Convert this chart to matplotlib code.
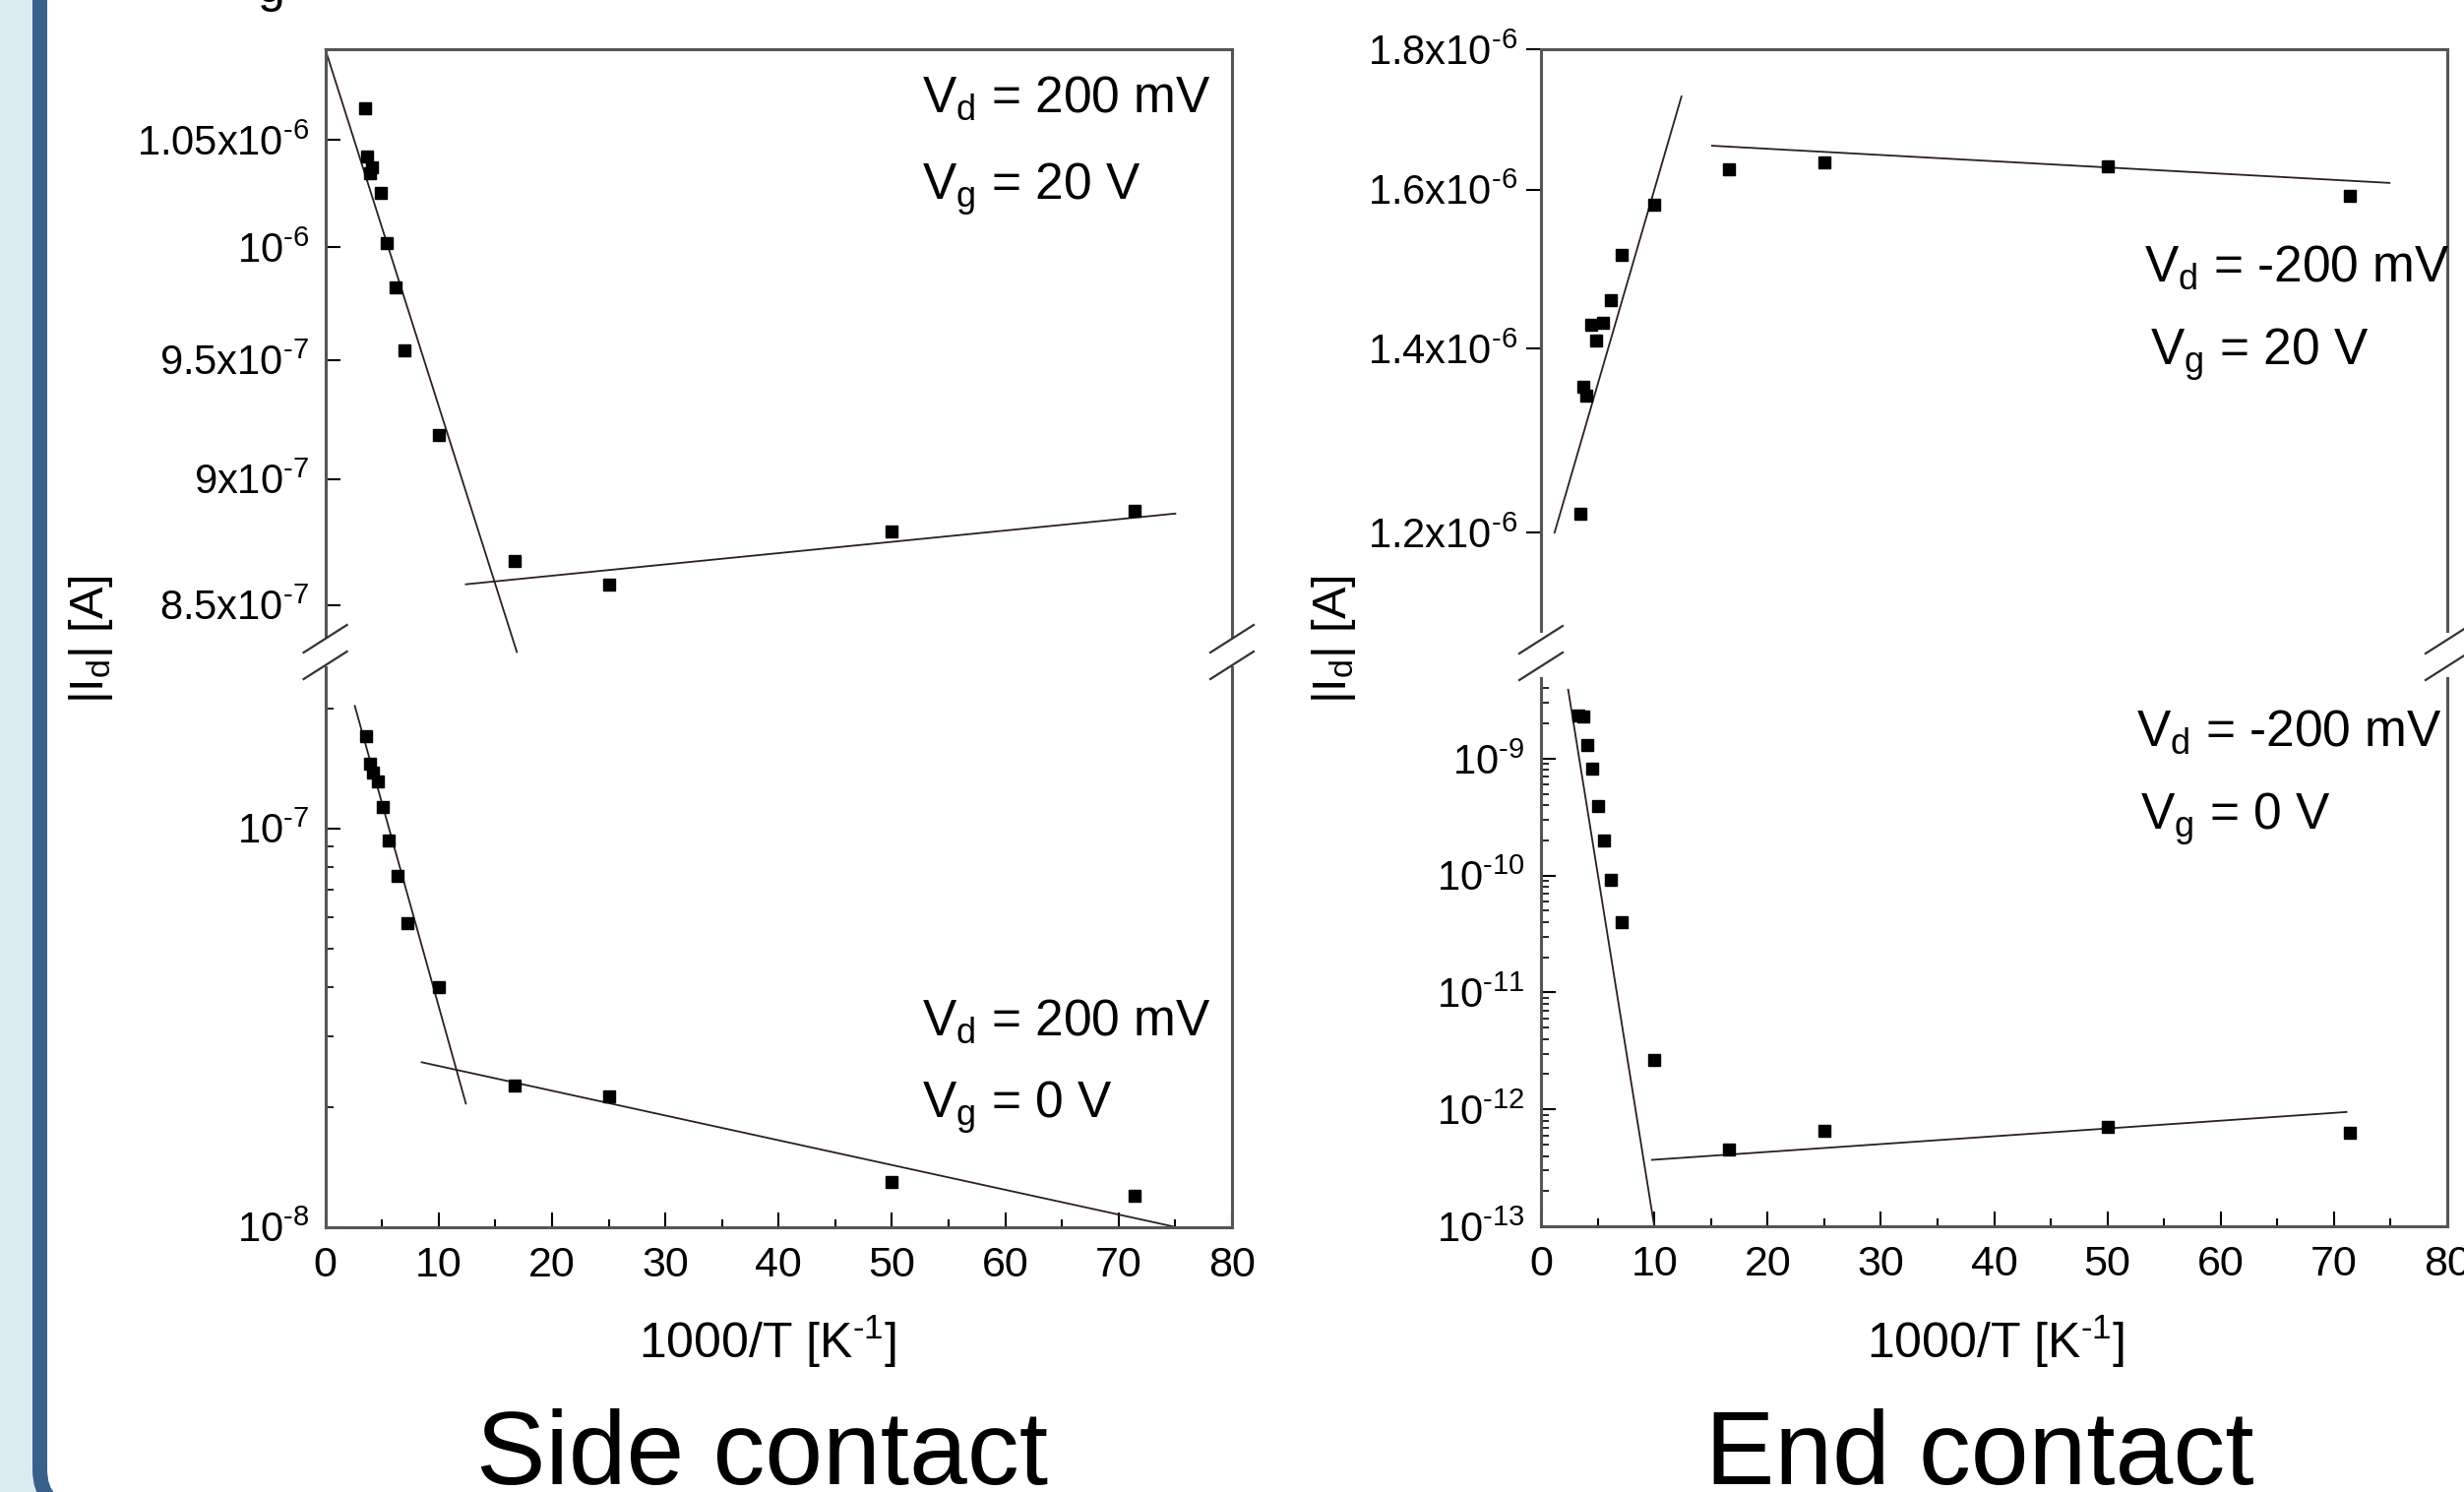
import numpy as np
import matplotlib
matplotlib.use("Agg")
import matplotlib.pyplot as plt
from matplotlib.ticker import FixedLocator, FixedFormatter, NullLocator, LogLocator, MultipleLocator, NullFormatter
from matplotlib.patches import Rectangle, FancyBboxPatch
from matplotlib.lines import Line2D

plt.rcParams['font.family'] = ['Liberation Sans', 'DejaVu Sans']
plt.rcParams['mathtext.fontset'] = 'custom'
plt.rcParams['mathtext.rm'] = 'Liberation Sans'
plt.rcParams['mathtext.it'] = 'Liberation Sans:italic'
plt.rcParams['mathtext.bf'] = 'Liberation Sans:bold'

# ---- data (x = 1000/T in 1/K, y = |Id| in A) ----
side_hi_x = [3.5, 3.7, 4.1, 3.9, 4.9, 5.4, 6.2, 7.0, 10.0, 16.7, 25.0, 50.0, 71.4]
side_hi_y = [1.065e-6, 1.042e-6, 1.037e-6, 1.034e-6, 1.025e-6, 1.002e-6, 0.982e-6,
             0.954e-6, 0.918e-6, 0.867e-6, 0.858e-6, 0.879e-6, 0.887e-6]

side_lo_x = [3.6, 3.9, 4.2, 4.6, 5.1, 5.6, 6.4, 7.2, 10.0, 16.7, 25.0, 50.0, 71.4]
side_lo_y = [1.70e-7, 1.45e-7, 1.38e-7, 1.31e-7, 1.13e-7, 9.3e-8, 7.6e-8, 5.8e-8,
             4.0e-8, 2.26e-8, 2.13e-8, 1.30e-8, 1.20e-8]

end_hi_x = [3.5, 3.7, 4.0, 4.4, 4.9, 5.5, 6.2, 7.1, 10.0, 16.6, 25.0, 50.0, 71.4]
end_hi_y = [1.219e-6, 1.356e-6, 1.346e-6, 1.429e-6, 1.410e-6, 1.431e-6, 1.458e-6,
            1.515e-6, 1.580e-6, 1.627e-6, 1.637e-6, 1.632e-6, 1.592e-6]

end_lo_x = [3.3, 3.7, 4.1, 4.5, 5.0, 5.6, 6.2, 7.1, 10.0, 16.6, 25.0, 50.0, 71.4]
end_lo_y = [2.35e-9, 2.30e-9, 1.30e-9, 8.3e-10, 3.96e-10, 1.98e-10, 9.2e-11, 4.0e-11,
            2.63e-12, 4.5e-13, 6.6e-13, 7.1e-13, 6.3e-13]

# fitted lines (end points)
side_hi_fit_a = ([0.0, 16.9], [1.094e-6, 0.832e-6])
side_hi_fit_b = ([12.4, 75.0], [0.858e-6, 0.886e-6])
side_lo_fit_a = ([2.6, 12.4], [2.03e-7, 2.04e-8])
side_lo_fit_b = ([8.5, 75.0], [2.59e-8, 1.0e-8])
end_hi_fit_a = ([1.2, 12.4], [1.20e-6, 1.73e-6])
end_hi_fit_b = ([15.1, 74.9], [1.660e-6, 1.609e-6])
end_lo_fit_a = ([2.4, 10.0], [3.9e-9, 1.0e-13])
end_lo_fit_b = ([9.8, 71.1], [3.7e-13, 9.5e-13])

# tick values / labels ('\u2010' = short hyphen, like the original)
HY = '\u2010'
side_hi_ticks = [8.5e-7, 9e-7, 9.5e-7, 1e-6, 1.05e-6]
side_hi_labels = ['8.5x10$^{\\mathrm{%s7}}$' % HY, '9x10$^{\\mathrm{%s7}}$' % HY,
                  '9.5x10$^{\\mathrm{%s7}}$' % HY, '10$^{\\mathrm{%s6}}$' % HY,
                  '1.05x10$^{\\mathrm{%s6}}$' % HY]
side_lo_ticks = [1e-8, 1e-7]
side_lo_labels = ['10$^{\\mathrm{%s8}}$' % HY, '10$^{\\mathrm{%s7}}$' % HY]
end_hi_ticks = [1.2e-6, 1.4e-6, 1.6e-6, 1.8e-6]
end_hi_labels = ['%sx10$^{\\mathrm{%s6}}$' % (v, HY) for v in ['1.2', '1.4', '1.6', '1.8']]
end_lo_ticks = [1e-13, 1e-12, 1e-11, 1e-10, 1e-9]
end_lo_labels = ['10$^{\\mathrm{%s%d}}$' % (HY, e) for e in [13, 12, 11, 10, 9]]
x_ticks = [0, 10, 20, 30, 40, 50, 60, 70, 80]

W, H = 2504, 1516
fig = plt.figure(figsize=(W / 100, H / 100), dpi=100)

SPINE = '#555555'
LINE = '#2d1f1c'


def px(x, y):
    return x / W, 1 - y / H


def rect(x0, x1, ytop, ybot):
    return [x0 / W, 1 - ybot / H, (x1 - x0) / W, (ybot - ytop) / H]


# background frame
bg = fig.add_axes([0, 0, 1, 1], zorder=-5)
bg.set_xlim(0, W)
bg.set_ylim(H, 0)
bg.axis('off')
bg.add_patch(Rectangle((0, 0), 80, H, color='#dbedf3', lw=0))
bg.add_patch(FancyBboxPatch((40.5, -200), 3000, 1733, boxstyle='round,pad=0,rounding_size=40',
                            fc='white', ec='#3a5f8c', lw=15 * 0.72))
bg.text(262, 1.5, 'g', fontsize=36, va='baseline', ha='left')


def style(ax, upper, tdir):
    ax.set_facecolor('none')
    for s in ax.spines.values():
        s.set_color(SPINE)
        s.set_linewidth(2.2)
    ax.set_xlim(0, 80)
    if upper:
        ax.spines['bottom'].set_visible(False)
        ax.tick_params(axis='x', which='both', bottom=False, labelbottom=False)
    else:
        ax.spines['top'].set_visible(False)
        ax.xaxis.set_major_locator(FixedLocator(x_ticks))
        ax.xaxis.set_minor_locator(MultipleLocator(5))
        ax.tick_params(axis='x', which='major', direction='in', length=11, width=1.5,
                       labelsize=31, pad=14, top=False)
        ax.tick_params(axis='x', which='minor', direction='in', length=6, width=1.5, top=False)
    ax.tick_params(axis='y', which='major', direction=tdir, length=11, width=1.5,
                   labelsize=30, pad=12 if tdir == 'in' else 6, right=False)
    ax.tick_params(axis='y', which='minor', direction=tdir, length=6, width=1.2, right=False)


def plot_set(ax, x, y, fits):
    for fx, fy in fits:
        ax.plot(fx, fy, color=LINE, lw=1.3, clip_on=False, zorder=2)
    ax.plot(x, y, 's', color='black', ms=9, zorder=3, clip_on=False)


def set_fixed_log(ax, ticks, labels, lims):
    ax.set_yscale('log')
    ax.set_ylim(*lims)
    ax.yaxis.set_major_locator(FixedLocator(ticks))
    ax.yaxis.set_major_formatter(FixedFormatter(labels))
    ax.yaxis.set_minor_locator(NullLocator())


# ---- Side contact ----
ax1 = fig.add_axes(rect(330.6, 1252, 50, 647))
plot_set(ax1, side_hi_x, side_hi_y, [side_hi_fit_a, side_hi_fit_b])
set_fixed_log(ax1, side_hi_ticks, side_hi_labels, (0.8378e-6, 1.094e-6))
style(ax1, True, 'in')

ax2 = fig.add_axes(rect(330.6, 1252, 678, 1246.7))
plot_set(ax2, side_lo_x, side_lo_y, [side_lo_fit_a, side_lo_fit_b])
ax2.set_yscale('log')
ax2.set_ylim(1e-8, 2.537e-7)
ax2.yaxis.set_major_locator(FixedLocator(side_lo_ticks))
ax2.yaxis.set_major_formatter(FixedFormatter(side_lo_labels))
ax2.yaxis.set_minor_locator(LogLocator(base=10, subs=np.arange(2, 10)))
ax2.yaxis.set_minor_formatter(NullFormatter())
style(ax2, False, 'in')

# ---- End contact ----
ax3 = fig.add_axes(rect(1566, 2487, 50, 641))
plot_set(ax3, end_hi_x, end_hi_y, [end_hi_fit_a, end_hi_fit_b])
set_fixed_log(ax3, end_hi_ticks, end_hi_labels, (1.105e-6, 1.8e-6))
style(ax3, True, 'out')

ax4 = fig.add_axes(rect(1566, 2487, 689, 1246))
plot_set(ax4, end_lo_x, end_lo_y, [end_lo_fit_a, end_lo_fit_b])
ax4.set_yscale('log')
ax4.set_ylim(1e-13, 4.9e-9)
ax4.yaxis.set_major_locator(FixedLocator(end_lo_ticks))
ax4.yaxis.set_major_formatter(FixedFormatter(end_lo_labels))
ax4.yaxis.set_minor_locator(LogLocator(base=10, subs=np.arange(2, 10)))
ax4.yaxis.set_minor_formatter(NullFormatter())
style(ax4, False, 'in')

# axis breaks
for xs, (ya, yb) in [(330.6, (649, 676)), (1252, (649, 676)),
                     (1566, (650, 677)), (2487, (650, 677))]:
    for yc in (ya, yb):
        x1, y1 = px(xs - 22, yc + 14)
        x2, y2 = px(xs + 22, yc - 14)
        fig.add_artist(Line2D([x1, x2], [y1, y2], transform=fig.transFigure,
                              color='#333333', lw=1.6))

# annotations
ann = [
    (937, 114, r'V$_{\mathrm{d}}$ = 200 mV'), (937, 203, r'V$_{\mathrm{g}}$ = 20 V'),
    (937, 1052, r'V$_{\mathrm{d}}$ = 200 mV'), (937, 1136, r'V$_{\mathrm{g}}$ = 0 V'),
    (2179, 286, r'V$_{\mathrm{d}}$ = -200 mV'), (2185, 371, r'V$_{\mathrm{g}}$ = 20 V'),
    (2171, 758, r'V$_{\mathrm{d}}$ = -200 mV'), (2175, 843, r'V$_{\mathrm{g}}$ = 0 V'),
]
for x, y, s in ann:
    fig.text(*px(x, y), s, fontsize=37, ha='left', va='baseline')

# axis labels
for xc in (780, 2028):
    fig.text(*px(xc, 1380), '1000/T [K$^{\\mathrm{%s1}}$]' % HY, fontsize=36,
             ha='center', va='baseline')
for xc in (93, 1356):
    fig.text(*px(xc, 650), r'|I$_{\mathrm{d}}$| [A]', fontsize=35, ha='center', va='center',
             rotation=90)

# captions
fig.text(*px(775, 1508), 'Side contact', fontsize=76, ha='center', va='baseline')
fig.text(*px(2012, 1508), 'End contact', fontsize=76, ha='center', va='baseline')

fig.savefig('out.png', dpi=100)
